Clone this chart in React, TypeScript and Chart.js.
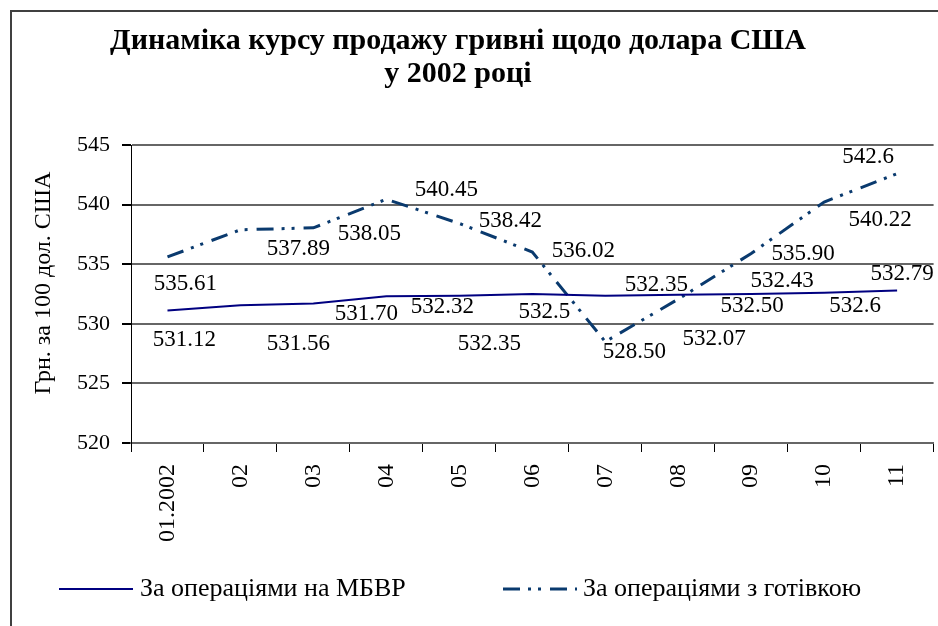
import React, { useEffect, useRef } from "react";
import { Chart, registerables } from "chart.js";

Chart.register(...registerables);

const categories = ["01.2002", "02", "03", "04", "05", "06", "07", "08", "09", "10", "11"];
const mbvrValues = [531.12, 531.56, 531.7, 532.32, 532.35, 532.5, 532.35, 532.43, 532.5, 532.6, 532.79];
const mbvrLabels = ["531.12", "531.56", "531.70", "532.32", "532.35", "532.5", "532.35", "532.43", "532.50", "532.6", "532.79"];
const cashValues = [535.61, 537.89, 538.05, 540.45, 538.42, 536.02, 528.5, 532.07, 535.9, 540.22, 542.6];
const cashLabels = ["535.61", "537.89", "538.05", "540.45", "538.42", "536.02", "528.50", "532.07", "535.90", "540.22", "542.6"];
const yTicks = [520, 525, 530, 535, 540, 545];
const titleLines = ["Динаміка курсу продажу гривні щодо долара США", "у 2002 році"];
const yAxisTitle = "Грн. за 100 дол. США";
const seriesNames = ["За операціями на МБВР", "За операціями з готівкою"];

const SERIF = "'Liberation Serif', 'Times New Roman', serif";

export default function App() {
  const ref = useRef<HTMLCanvasElement | null>(null);

  useEffect(() => {
    document.body.style.margin = "0";
    const canvas = ref.current;
    if (!canvas) return;

    const labelTexts = [mbvrLabels, cashLabels];
    const labelOffsets = [
      [[17, 30], [58, 39], [53, 10], [56, 11], [30, 48], [12, 18], [51, -11], [104, -14], [1, 12], [31, 13], [5, -17]],
      [[18, 27], [58, 19], [56, 6], [60, -9], [51, -2], [51, -1], [29, 10], [36, 40], [52, 0], [56, 18], [-29, -17]],
    ];

    const decor = {
      id: "decor",
      beforeDraw(chart: any) {
        const ctx = chart.ctx;
        ctx.save();
        ctx.fillStyle = "#ffffff";
        ctx.fillRect(0, 0, chart.width, chart.height);
        ctx.restore();
      },
      afterDraw(chart: any) {
        const ctx = chart.ctx;
        ctx.save();
        // frame
        ctx.strokeStyle = "#404040";
        ctx.lineWidth = 2;
        ctx.beginPath();
        ctx.moveTo(11, chart.height + 5);
        ctx.lineTo(11, 11);
        ctx.lineTo(chart.width + 5, 11);
        ctx.stroke();

        // title
        ctx.fillStyle = "#000";
        ctx.textAlign = "center";
        ctx.textBaseline = "alphabetic";
        ctx.font = "bold 30px " + SERIF;
        ctx.fillText(titleLines[0], 458, 49);
        ctx.fillText(titleLines[1], 458, 82);

        // y axis title
        ctx.save();
        ctx.translate(44, 283);
        ctx.rotate(-Math.PI / 2);
        ctx.font = "24px " + SERIF;
        ctx.textBaseline = "middle";
        ctx.fillText(yAxisTitle, 0, 0);
        ctx.restore();

        // data labels
        ctx.font = "23px " + SERIF;
        ctx.textAlign = "center";
        ctx.textBaseline = "middle";
        chart.data.datasets.forEach((ds: any, i: number) => {
          const meta = chart.getDatasetMeta(i);
          meta.data.forEach((pt: any, j: number) => {
            const off = labelOffsets[i][j];
            ctx.fillText(labelTexts[i][j], pt.x + off[0], pt.y + off[1]);
          });
        });

        // legend
        const legendY = 589;
        const items = [
          { x0: 59, x1: 133, tx: 140 },
          { x0: 503, x1: 577, tx: 583 },
        ];
        ctx.font = "26px " + SERIF;
        ctx.textAlign = "left";
        ctx.textBaseline = "middle";
        chart.data.datasets.forEach((ds: any, i: number) => {
          const it = items[i];
          ctx.save();
          ctx.strokeStyle = ds.borderColor;
          ctx.lineWidth = ds.borderWidth;
          ctx.setLineDash(ds.borderDash || []);
          ctx.beginPath();
          ctx.moveTo(it.x0, legendY);
          ctx.lineTo(it.x1, legendY);
          ctx.stroke();
          ctx.restore();
          ctx.fillStyle = "#000";
          ctx.fillText(ds.label, it.tx, legendY);
        });
        ctx.restore();
      },
    };

    const chart = new Chart(canvas, {
      type: "line",
      data: {
        labels: categories,
        datasets: [
          {
            label: seriesNames[0],
            data: mbvrValues,
            borderColor: "#000080",
            backgroundColor: "#000080",
            borderWidth: 2,
            pointRadius: 0,
            tension: 0,
          },
          {
            label: seriesNames[1],
            data: cashValues,
            borderColor: "#0a3a6e",
            backgroundColor: "#0a3a6e",
            borderWidth: 3,
            borderDash: [17, 8, 3, 7, 3, 9],
            pointRadius: 0,
            tension: 0,
          },
        ],
      },
      options: {
        responsive: false,
        animation: false,
        devicePixelRatio: 1,
        layout: { padding: { top: 145, left: 0, right: 2, bottom: 0 } },
        plugins: {
          legend: { display: false },
          title: { display: false },
          tooltip: { enabled: false },
        },
        scales: {
          x: {
            type: "category",
            offset: true,
            grid: {
              drawOnChartArea: false,
              drawTicks: true,
              tickLength: 9,
              tickColor: "#000",
              offset: true,
            },
            border: { display: true, color: "#666", width: 2 },
            ticks: {
              minRotation: 90,
              maxRotation: 90,
              autoSkip: false,
              padding: 12,
              color: "#000",
              font: { family: SERIF, size: 24 },
            },
            afterFit: (s: any) => {
              s.height = 183;
            },
          },
          y: {
            type: "linear",
            min: 520,
            max: 545,
            afterBuildTicks: (s: any) => {
              s.ticks = yTicks.map((v) => ({ value: v }));
            },
            grid: {
              color: "#666",
              lineWidth: 2,
              tickLength: 9,
              tickColor: "#000",
            },
            border: { display: true, color: "#000", width: 1 },
            ticks: {
              padding: 12,
              color: "#000",
              font: { family: SERIF, size: 22 },
            },
            afterFit: (s: any) => {
              s.width = 131;
            },
          },
        },
      },
      plugins: [decor],
    });

    return () => {
      chart.destroy();
    };
  }, []);

  return (
    <div style={{ position: "relative", width: 938, height: 626 }}>
      <canvas ref={ref} width={938} height={626} style={{ display: "block" }} />
    </div>
  );
}
